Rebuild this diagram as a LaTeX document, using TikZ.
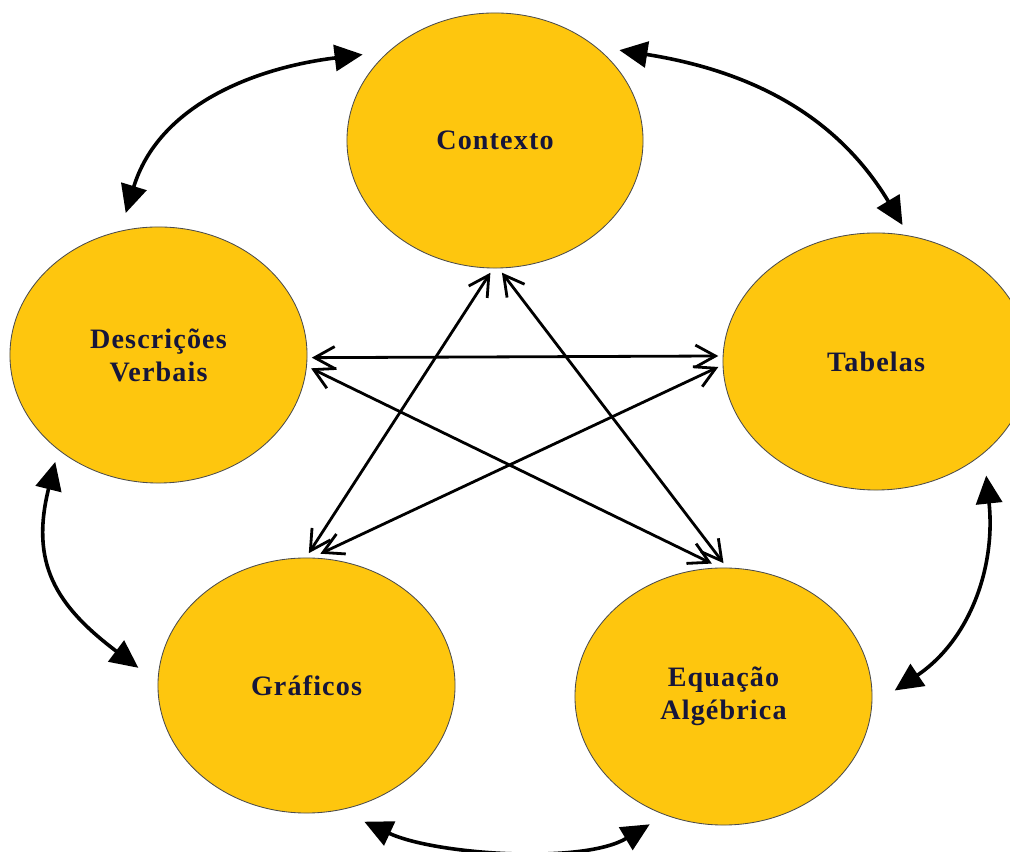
\documentclass[tikz,border=0pt]{standalone}
\usepackage{fontspec}
\setmainfont{Liberation Serif}
\newfontfamily\bubblefont[LetterSpace=4]{Liberation Serif}
\usetikzlibrary{shapes.geometric, arrows.meta}
\definecolor{bubblefill}{RGB}{254,198,14}
\definecolor{bubbletext}{RGB}{22,22,58}
\tikzstyle{bubble} = [ellipse, draw=black!70, line width=0.6pt, fill=bubblefill, inner sep=0pt, outer sep=0.12cm, text=bubbletext, align=center, font=\bubblefont\bfseries\fontsize{20}{23.5}\selectfont]
\tikzstyle{crossarrow} = [line width=0.07cm, {Straight Barb[length=0.5cm,width=0.55cm]}-{Straight Barb[length=0.5cm,width=0.55cm]}]
\tikzstyle{roundarrow} = [line width=0.09cm, {Triangle[length=0.7cm,width=0.65cm]}-{Triangle[length=0.7cm,width=0.65cm]}]

\begin{document}
\begin{tikzpicture}[x=0.025cm, y=0.025cm]
	\useasboundingbox (0,0) rectangle (1010,852);

	% the five representations
	\node[bubble, minimum width=7.4cm, minimum height=6.375cm] (ctx) at (495,711.5) {Contexto};
	\node[bubble, minimum width=7.425cm, minimum height=6.4cm] (desc) at (158.5,497) {Descrições\\Verbais};
	\node[bubble, minimum width=7.65cm, minimum height=6.425cm] (tab) at (876,490.5) {Tabelas};
	\node[bubble, minimum width=7.425cm, minimum height=6.375cm] (graf) at (306.5,166.5) {Gráficos};
	\node[bubble, minimum width=7.425cm, minimum height=6.425cm] (equa) at (723.5,155.5) {Equação\\Algébrica};

	% links across the middle
	\draw[crossarrow] (desc.-1) -- (tab.178);
	\draw[crossarrow] (desc.-5) -- (equa.95);
	\draw[crossarrow] (tab.182) -- (graf.84);
	\draw[crossarrow] (ctx.268) -- (graf.89);
	\draw[crossarrow] (ctx.273) -- (equa.90);

	% links round the outside
	\draw[roundarrow] ([shift={(103:12)}]desc.103) to[out=73, in=187] ([shift={(147:12)}]ctx.147);
	\draw[roundarrow] ([shift={(36:9)}]ctx.36) to[out=-9, in=121] ([shift={(79:5)}]tab.79);
	\draw[roundarrow] ([shift={(226:7)}]desc.226) to[out=-104, in=143, looseness=1.2] ([shift={(174:16)}]graf.174);
	\draw[roundarrow] ([shift={(-46:15)}]tab.-46) to[out=-84, in=34] ([shift={(2:18)}]equa.2);
	\draw[roundarrow] ([shift={(-67:13)}]graf.-67) to[out=-25, in=211, looseness=0.7] ([shift={(240:10)}]equa.240);

\end{tikzpicture}
\end{document}
